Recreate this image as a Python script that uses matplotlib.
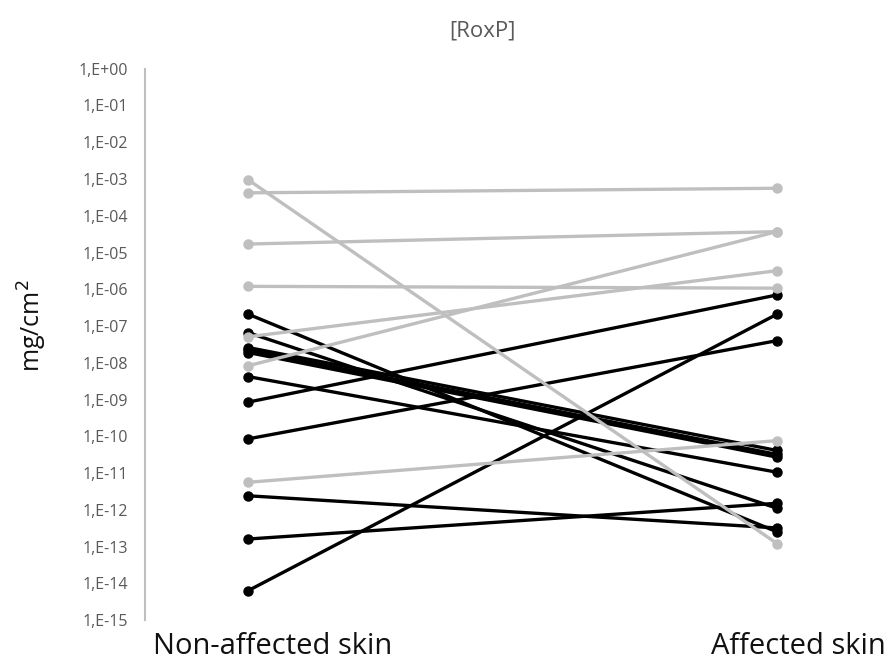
import matplotlib
matplotlib.use("Agg")
import matplotlib.pyplot as plt

plt.rcParams['font.family'] = ['Open Sans', 'DejaVu Sans']

# data (mg/cm2), pairs: non-affected -> affected
categories = ["Non-affected skin", "Affected skin"]

black_nonaff = [2.1e-7, 6.6e-8, 2.6e-8, 2.2e-8, 1.9e-8, 4.2e-9, 8.5e-10,
                8.5e-11, 2.4e-12, 1.6e-13, 6.3e-15]
black_aff = [2.5e-13, 1.1e-12, 4.1e-11, 3.2e-11, 2.7e-11, 1.05e-11, 7.0e-7,
             4.0e-8, 3.2e-13, 1.5e-12, 2.1e-7]

gray_nonaff = [9.5e-4, 4.2e-4, 1.7e-5, 1.2e-6, 5.1e-8, 8.3e-9, 5.6e-12]
gray_aff = [1.2e-13, 5.6e-4, 3.7e-5, 1.07e-6, 3.2e-6, 3.7e-5, 7.6e-11]

exponents = list(range(0, -16, -1))
tick_labels = ["1,E+00" if e == 0 else "1,E%03d" % e for e in exponents]

fig = plt.figure(figsize=(8.9, 6.61), dpi=100)
ax = fig.add_axes([0.163, 0.062, 0.826, 0.834])

for a, b in zip(black_nonaff, black_aff):
    ax.plot([0, 1], [a, b], color="black", lw=2.4, marker="o", ms=6.5,
            solid_capstyle="round")
for a, b in zip(gray_nonaff, gray_aff):
    ax.plot([0, 1], [a, b], color="#BFBFBF", lw=2.4, marker="o", ms=6.5,
            solid_capstyle="round")

ax.set_yscale("log")
ax.set_ylim(1e-15, 1e0)
ax.set_xlim(-0.195, 1.195)
ax.set_yticks([10.0 ** e for e in exponents], labels=tick_labels)
ax.minorticks_off()
ax.tick_params(axis="y", length=0, pad=12.5, labelsize=11.5, labelcolor="#595959")
ax.set_xticks([])

for s in ["top", "right", "bottom"]:
    ax.spines[s].set_visible(False)
ax.spines["left"].set_color("#BFBFBF")
ax.spines["left"].set_linewidth(1.5)

# axis title and chart title
fig.text(32 / 890, 1 - 326 / 661, "mg/cm$^2$", rotation=90, fontsize=18,
         ha="center", va="center", color="#111111")
fig.text(482 / 890, 1 - 31 / 661, "[RoxP]", fontsize=16, color="#595959",
         ha="center", va="center")

ax.text(0.047, -0.022, categories[0], transform=ax.get_xaxis_transform(),
        ha="center", va="top", fontsize=21, color="#111111")
ax.text(1.04, -0.022, categories[1], transform=ax.get_xaxis_transform(),
        ha="center", va="top", fontsize=21, color="#111111")

fig.savefig("out.png", dpi=100)
